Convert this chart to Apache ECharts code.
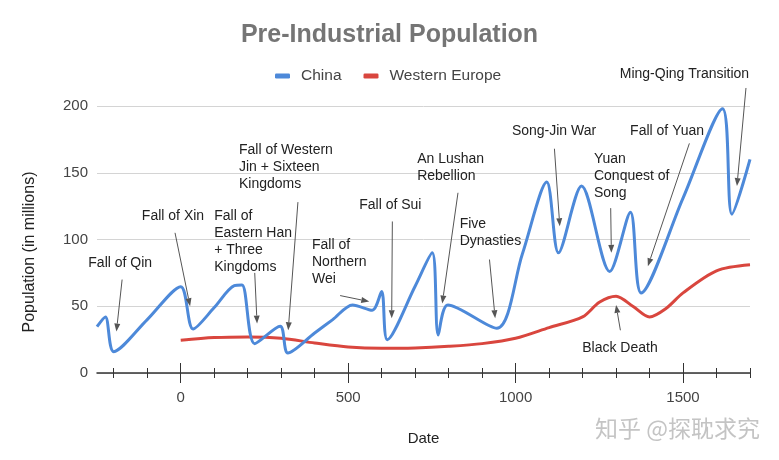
<!DOCTYPE html>
<html>
<head>
<meta charset="utf-8">
<script src="https://cdn.jsdelivr.net/npm/echarts@6/dist/echarts.min.js"></script>
<style>
  html, body { margin: 0; padding: 0; background: #fff; }
  #chart { width: 779px; height: 460px; }
</style>
</head>
<body>
<div id="chart"></div>
<script>
// China, population in millions by year
const chinaYears = [-250, -225, -200, -100, 0, 37, 100, 160, 183, 221, 297, 320, 400, 454, 513, 572, 600, 617, 700, 751, 769, 798, 944, 1020, 1093, 1128, 1197, 1281, 1343, 1375, 1500, 1618, 1646, 1700]
const chinaPop = [34.7, 42, 16, 40, 64.7, 33, 49, 65.5, 66, 22, 35, 15, 30, 40, 51, 47, 61, 25, 65, 90, 28.5, 51, 33.5, 89, 143, 90, 140, 76, 120.5, 60, 131, 198, 119, 160]

// Western Europe
const europeYears = [0, 100, 200, 300, 400, 500, 600, 700, 800, 900, 1000, 1100, 1200, 1250, 1300, 1350, 1400, 1450, 1500, 1600, 1700]
const europePop = [24.5, 26.5, 27, 26, 22.5, 19.5, 18.5, 18.8, 20, 22, 26, 34, 42, 53, 57.5, 50, 42, 48.5, 60, 76.5, 81]

const yearLabels = [0, 500, 1000, 1500]
const minorTicks = [-200, -100, 100, 200, 300, 400, 600, 700, 800, 900, 1100, 1200, 1300, 1400, 1600, 1700]

// annotation: text, arrow start [year, pop], arrow tip [year, pop], label anchor (first line) [year, pop]
const notes = [
  { text: 'Fall of Qin', from: [-175, 70], to: [-192, 31], at: [-276, 82.5] },
  { text: 'Fall of Xin', from: [-17, 105], to: [28, 50], at: [-116, 117.8] },
  { text: 'Fall of\nEastern Han\n+ Three\nKingdoms', from: [221, 75], to: [228, 37], at: [100, 117.8] },
  { text: 'Fall of Western\nJin + Sixteen\nKingdoms', from: [350, 128], to: [321, 32], at: [174, 167.3] },
  { text: 'Fall of\nNorthern\nWei', from: [476, 58], to: [563, 53.5], at: [392, 96] },
  { text: 'Fall of Sui', from: [632, 113.5], to: [630, 41], at: [533, 126] },
  { text: 'An Lushan\nRebellion', from: [828, 135], to: [781, 52], at: [706, 160.3] },
  { text: 'Five\nDynasties', from: [922, 85], to: [939, 41], at: [833, 111.8] },
  { text: 'Song-Jin War', from: [1116, 168], to: [1132, 110], at: [989, 181] },
  { text: 'Yuan\nConquest of\nSong', from: [1284, 123.5], to: [1286, 90], at: [1234, 160.3] },
  { text: 'Fall of Yuan', from: [1519, 172], to: [1395, 80], at: [1342, 181] },
  { text: 'Ming-Qing Transition', from: [1688, 213.5], to: [1661, 140], at: [1311, 223.5] },
  { text: 'Black Death', from: [1313, 32], to: [1300, 51], at: [1199, 18.5] }
]

const FONT = 'Liberation Sans, Arial, sans-serif'
const chart = echarts.init(document.getElementById('chart'))

function tickAxis(values, inside, len) {
  return {
    type: 'value', min: -250, max: 1700, position: 'bottom',
    axisLine: { show: false },
    axisTick: { show: true, inside: inside, length: len, customValues: values, lineStyle: { color: '#333', width: 1 } },
    axisLabel: { show: false, customValues: values },
    splitLine: { show: false }
  }
}

chart.setOption({
  animation: false,
  title: {
    text: 'Pre-Industrial Population', left: 'center', top: 18,
    textStyle: { fontFamily: FONT, fontSize: 25, fontWeight: 'bold', color: '#757575' }
  },
  legend: {
    top: 63, left: 270, itemWidth: 15, itemHeight: 5, itemGap: 22, icon: 'roundRect',
    textStyle: { fontFamily: FONT, fontSize: 15.5, color: '#444', padding: [0, 0, 0, 6] },
    data: ['China', 'Western Europe']
  },
  grid: { left: 97, right: 29, top: 106, bottom: 87 },
  xAxis: [
    {
      type: 'value', min: -250, max: 1700, position: 'bottom',
      name: 'Date', nameLocation: 'middle', nameGap: 58,
      nameTextStyle: { fontFamily: FONT, fontSize: 15, color: '#222' },
      axisLine: { show: true, onZero: true, lineStyle: { color: '#333', width: 1.5 } },
      axisTick: { show: true, length: 10, customValues: yearLabels, lineStyle: { color: '#333', width: 1 } },
      axisLabel: { customValues: yearLabels, margin: 17, fontFamily: FONT, fontSize: 15, color: '#444', formatter: v => String(v) },
      splitLine: { show: false }
    },
    tickAxis(yearLabels, true, 10),
    tickAxis(minorTicks, false, 5),
    tickAxis(minorTicks, true, 5)
  ],
  yAxis: {
    type: 'value', min: 0, max: 200, interval: 50,
    name: 'Population (in millions)', nameLocation: 'middle', nameGap: 59, nameRotate: 90,
    nameTextStyle: { fontFamily: FONT, fontSize: 16, color: '#222', padding: [0, 25, 0, 0] },
    axisLine: { show: false }, axisTick: { show: false },
    axisLabel: { margin: 9, fontFamily: FONT, fontSize: 15, color: '#444' },
    splitLine: { lineStyle: { color: '#d4d4d4', width: 1 } }
  },
  series: [
    {
      name: 'China', type: 'line', smooth: 0.3, showSymbol: false, z: 3,
      data: chinaYears.map((y, i) => [y, chinaPop[i]]),
      itemStyle: { color: '#4d89d9' },
      lineStyle: { color: '#4d89d9', width: 3 }
    },
    {
      name: 'Western Europe', type: 'line', smooth: 0.3, showSymbol: false, z: 2,
      data: europeYears.map((y, i) => [y, europePop[i]]),
      itemStyle: { color: '#d9463e' },
      lineStyle: { color: '#d9463e', width: 3 }
    }
  ]
})

// annotation texts and arrows placed through the chart's own axes
const toPx = v => chart.convertToPixel({ xAxisIndex: 0, yAxisIndex: 0 }, v)
const graphics = []
notes.forEach(n => {
  const p = toPx(n.at)
  graphics.push({
    type: 'text', x: p[0], y: p[1] - 8.5, z: 100,
    style: { text: n.text, font: '14px ' + FONT, fill: '#222', lineHeight: 17, verticalAlign: 'top' }
  })
  const a = toPx(n.from), b = toPx(n.to)
  const dx = b[0] - a[0], dy = b[1] - a[1]
  const len = Math.sqrt(dx * dx + dy * dy)
  const ux = dx / len, uy = dy / len
  const bx = b[0] - ux * 8, by = b[1] - uy * 8
  graphics.push({
    type: 'line', z: 100, shape: { x1: a[0], y1: a[1], x2: bx, y2: by },
    style: { stroke: '#555', lineWidth: 1 }
  })
  graphics.push({
    type: 'polygon', z: 100,
    shape: { points: [[b[0], b[1]], [bx - uy * 3, by + ux * 3], [bx + uy * 3, by - ux * 3]] },
    style: { fill: '#555' }
  })
})
graphics.push({
  type: 'text', right: 18, top: 416, z: 100,
  style: { text: '知乎 @探耽求究', font: '23px "Noto Sans CJK SC", sans-serif', fill: '#c4c4c4', stroke: '#fff', lineWidth: 2 }
})
chart.setOption({ graphic: graphics })
</script>
</body>
</html>
